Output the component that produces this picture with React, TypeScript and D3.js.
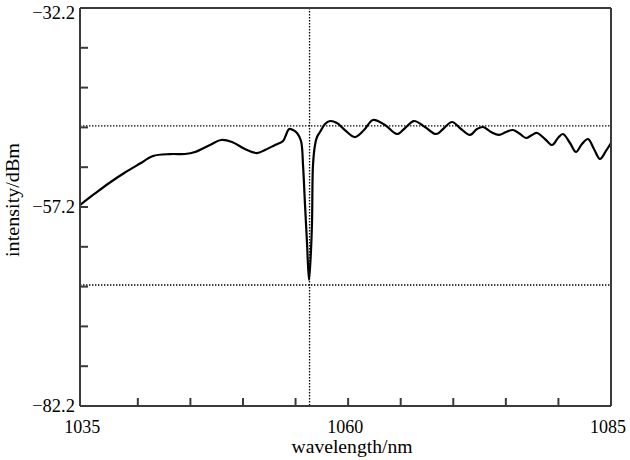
import React from "react";
import * as d3 from "d3";

const wavelength = [
  1034.5, 1035.93, 1037.35, 1038.78, 1040.21, 1041.44, 1043.06, 1044.49, 1045.44, 1046.86,
  1047.91, 1048.96, 1050.19, 1051.33, 1052.09, 1053.05, 1053.81, 1054.09, 1054.38, 1054.76,
  1055.14, 1055.52, 1055.71, 1055.9, 1056.09, 1056.28, 1056.47, 1056.57, 1056.66, 1056.85,
  1057.04, 1057.32, 1057.8, 1058.28, 1058.94, 1059.7, 1060.65, 1061.51, 1062.37, 1063.51,
  1064.65, 1065.41, 1066.26, 1067.31, 1068.36, 1069.12, 1069.88, 1070.74, 1071.59, 1072.26,
  1072.83, 1073.59, 1074.35, 1075.01, 1075.68, 1076.35, 1076.92, 1077.49, 1077.96, 1078.73,
  1079.39, 1079.96, 1080.43, 1081.1, 1081.67, 1082.24, 1082.81, 1083.38, 1083.95, 1084.52,
  1085.0,
];
const intensity = [
  -56.95, -55.5, -54.12, -52.87, -51.74, -50.79, -50.55, -50.54, -50.29, -49.41,
  -48.78, -49.03, -49.91, -50.42, -50.04, -49.41, -48.91, -48.15, -47.4, -47.53,
  -47.9, -48.91, -51.92, -56.95, -61.72, -66.37, -62.6, -58.83, -51.92, -49.41,
  -48.41, -47.78, -46.77, -46.4, -46.65, -47.53, -48.41, -47.53, -46.27, -46.9,
  -48.03, -47.28, -46.4, -47.15, -48.03, -47.28, -46.52, -47.4, -48.15, -47.4,
  -47.15, -47.78, -48.15, -47.78, -47.53, -48.03, -48.53, -48.15, -47.9, -48.66,
  -49.41, -48.53, -48.03, -49.16, -50.29, -49.29, -48.66, -49.91, -51.17, -50.16,
  -49.16,
];

const xTicks = [1040, 1045, 1050, 1055, 1060, 1065, 1070, 1075, 1080];
const xLabels = [1035, 1060, 1085];
const yTicks = [-37.2, -42.2, -47.2, -52.2, -57.2, -62.2, -67.2, -72.2, -77.2];
const yLabels = [-32.2, -57.2, -82.2];
const refLevels = [-47.0, -67.0];
const refWavelength = [1056.33];

const left = 80, right = 611, top = 8, bottom = 406;

export default function App() {
  const x = d3.scaleLinear().domain([1034.5, 1085]).range([left, right]);
  const y = d3.scaleLinear().domain([-82.2, -32.2]).range([bottom, top]);
  const pts = wavelength.map((w, i) => [w, intensity[i]] as [number, number]);
  const line = d3
    .line<[number, number]>()
    .x((d) => x(d[0]))
    .y((d) => y(d[1]))
    .curve(d3.curveCatmullRom.alpha(0.5));
  const fmt = (v: number) => (v < 0 ? "\u2212" + Math.abs(v).toFixed(1) : v.toFixed(1));
  const axisColor = "#3a3a3a";
  const font = "'Liberation Serif', 'Times New Roman', serif";

  return (
    <svg
      width={630}
      height={460}
      style={{ position: "absolute", left: 0, top: 0, background: "#fff" }}
      fontFamily={font}
    >
      <rect x={0} y={0} width={630} height={460} fill="#fff" />
      {refLevels.map((v) => (
        <line
          key={"h" + v}
          x1={left}
          x2={right}
          y1={y(v)}
          y2={y(v)}
          stroke="#000"
          strokeWidth={1.3}
          strokeDasharray="1.4 1.6"
        />
      ))}
      {refWavelength.map((v) => (
        <line
          key={"v" + v}
          x1={x(v)}
          x2={x(v)}
          y1={top}
          y2={bottom}
          stroke="#000"
          strokeWidth={1.3}
          strokeDasharray="1.4 1.6"
        />
      ))}
      <path d={line(pts) || ""} fill="none" stroke="#000" strokeWidth={2.2} strokeLinejoin="round" />
      <line x1={left} x2={left} y1={top} y2={bottom} stroke={axisColor} strokeWidth={2} />
      <line x1={left} x2={right} y1={bottom} y2={bottom} stroke={axisColor} strokeWidth={2} />
      <line x1={left} x2={right} y1={top} y2={top} stroke={axisColor} strokeWidth={2} />
      <line x1={right} x2={right} y1={top} y2={bottom} stroke={axisColor} strokeWidth={2} />
      {yTicks.map((v) => (
        <line key={"yt" + v} x1={left} x2={left + 8} y1={y(v)} y2={y(v)} stroke={axisColor} strokeWidth={2} />
      ))}
      {xTicks.map((v) => (
        <line key={"xt" + v} x1={x(v)} x2={x(v)} y1={bottom} y2={bottom - 8} stroke={axisColor} strokeWidth={2} />
      ))}
      {yLabels.map((v) => (
        <text
          key={"yl" + v}
          x={75}
          y={Math.max(y(v), 13) + 6}
          textAnchor="end"
          fontSize={18.5}
          fill="#000"
        >
          {fmt(v)}
        </text>
      ))}
      {xLabels.map((v) => (
        <text
          key={"xl" + v}
          x={Math.min(Math.max(x(v) - 3, left + 2), right - 3)}
          y={433}
          textAnchor="middle"
          fontSize={18}
          fill="#000"
        >
          {v}
        </text>
      ))}
      <text
        x={352}
        y={453}
        textAnchor="middle"
        fontSize={19}
        textLength={121}
        lengthAdjust="spacingAndGlyphs"
        fill="#000"
      >
        wavelength/nm
      </text>
      <text
        transform={`translate(19, 200) rotate(-90)`}
        textAnchor="middle"
        fontSize={19}
        textLength={114}
        lengthAdjust="spacingAndGlyphs"
        fill="#000"
      >
        intensity/dBm
      </text>
    </svg>
  );
}
